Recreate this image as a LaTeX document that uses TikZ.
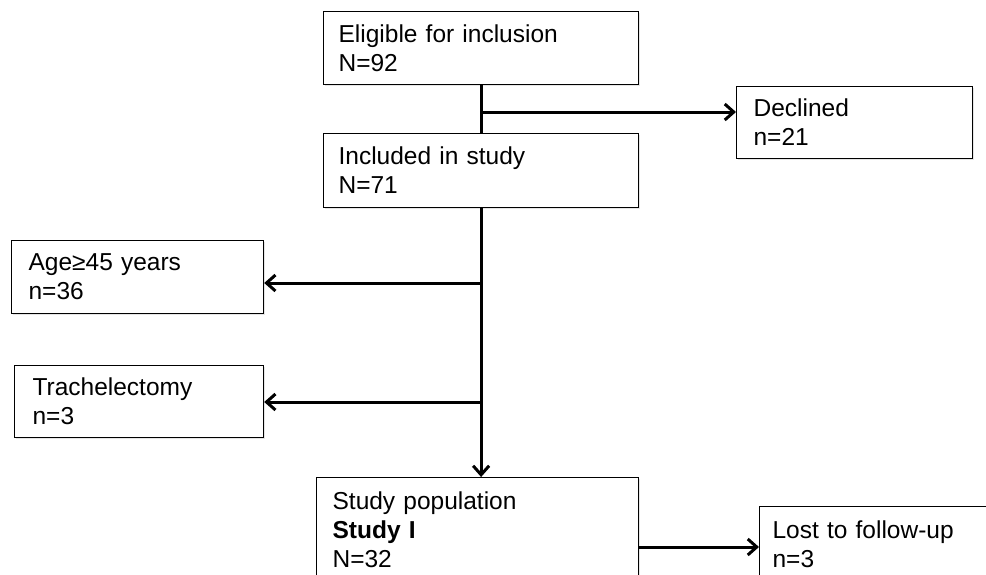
\documentclass[tikz,border=0pt]{standalone}
\usepackage{fontspec}
\setmainfont{Liberation Sans}
\usetikzlibrary{arrows.meta,shadows}

\tikzset{
	box/.style={draw, line width=1.2pt, fill=white, anchor=north west, align=left,
		inner xsep=16pt, inner ysep=0pt, font=\fontsize{24.5}{29}\selectfont,
		drop shadow={shadow xshift=1pt, shadow yshift=-1.5pt, fill=black!20}},
	link/.style={line width=3pt},
	arrow/.style={link, -{Straight Barb[length=9pt, width=16pt]}}
}

\begin{document}
\begin{tikzpicture}[x=1pt, y=-1pt]

	\useasboundingbox (0,0) rectangle (986,574);

		\node[box, inner xsep=15pt, text width=285pt, minimum height=73pt] (elig) at (323,11) {Eligible for inclusion\\N=92};
		\node[box, inner xsep=17pt, text width=202pt, minimum height=72pt] (decl) at (736,86) {Declined\\n=21};
		\node[box, inner xsep=15pt, text width=285pt, minimum height=74pt] (incl) at (323,133) {Included in study\\N=71};
		\node[box, inner xsep=17pt, text width=218pt, minimum height=73pt] (age) at (11,240) {Age≥45 years\\n=36};
		\node[box, inner xsep=18pt, text width=213pt, minimum height=72pt] (trach) at (14,365) {Trachelectomy\\n=3};
		\node[box, text width=290pt, minimum height=104pt] (study) at (316,477) {Study population\\\textbf{Study I}\\N=32};
		\node[box, inner xsep=13pt, text width=224pt, minimum height=76pt] (lost) at (759,506) {Lost to follow-up\\n=3};

		% branch points on the main line
		\coordinate (b1) at (elig.south |- 0,112);
		\coordinate (b2) at (incl.south |- 0,283);
		\coordinate (b3) at (incl.south |- 0,402);
		\coordinate (b4) at (study.east |- 0,547);

		\draw[link] (elig.south) -- (incl.north);
		\draw[arrow] (b1) -- (b1 -| decl.west);
		\draw[arrow] (incl.south) -- (incl.south |- study.north);
		\draw[arrow] (b2) -- (b2 -| age.east);
		\draw[arrow] (b3) -- (b3 -| trach.east);
		\draw[arrow] (b4) -- (b4 -| lost.west);

\end{tikzpicture}
\end{document}
